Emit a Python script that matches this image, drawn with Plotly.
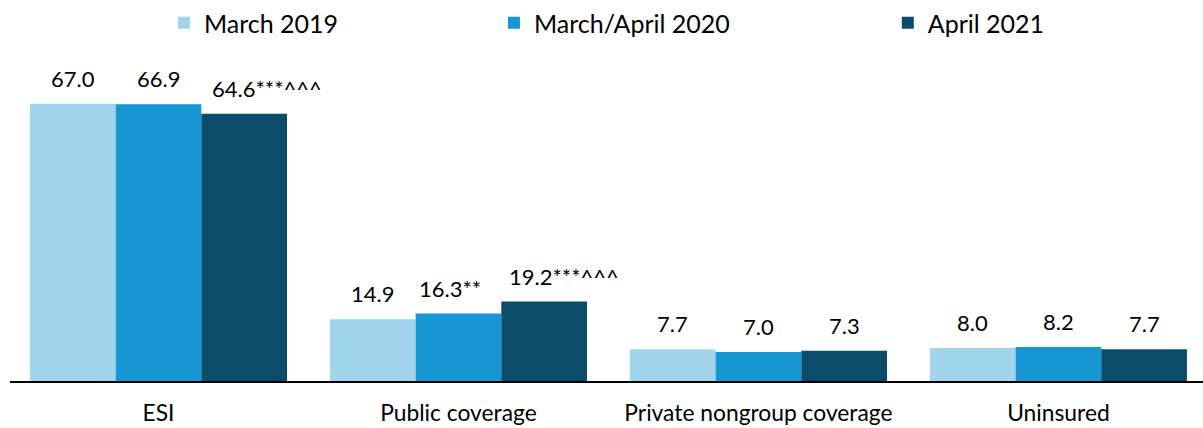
import plotly.graph_objects as go

categories = ["ESI", "Public coverage", "Private nongroup coverage", "Uninsured"]
series_names = ["March 2019", "March/April 2020", "April 2021"]
values_2019 = [67.0, 14.9, 7.7, 8.0]
values_2020 = [66.9, 16.3, 7.0, 8.2]
values_2021 = [64.6, 19.2, 7.3, 7.7]
labels_2019 = ["67.0", "14.9", "7.7", "8.0"]
labels_2020 = ["66.9", "16.3**", "7.0", "8.2"]
labels_2021 = ["64.6***^^^", "19.2***^^^", "7.3", "7.7"]
colors = ["#a2d4ec", "#1696d2", "#0a4c6a"]

all_values = [values_2019, values_2020, values_2021]
all_labels = [labels_2019, labels_2020, labels_2021]
legend_ids = ["legend", "legend2", "legend3"]
legend_x = [0.1363, 0.4106, 0.738]

FONT = "Lato, 'Open Sans', sans-serif"

fig = go.Figure()
for j in range(3):
    fig.add_trace(go.Bar(
        x=categories, y=all_values[j], name=series_names[j],
        marker=dict(color=colors[j], line=dict(width=0)),
        legend=legend_ids[j], hoverinfo="skip",
    ))

bar_px = 85.7
annotations = []
for j in range(3):
    for i, cat in enumerate(categories):
        lab = all_labels[j][i]
        extra = 0
        if lab.endswith("^^^"):
            extra = 23 if i == 0 else 20
        elif lab.endswith("**"):
            extra = -8
        annotations.append(dict(
            x=cat, y=all_values[j][i], xref="x", yref="y",
            text=lab, showarrow=False, yanchor="bottom", xanchor="center",
            xshift=(j - 1) * bar_px + extra, yshift=10,
            font=dict(family=FONT, size=22, color="#000000"),
        ))

layout_legends = {}
for j in range(3):
    layout_legends[legend_ids[j]] = dict(
        x=legend_x[j], y=1.0, xanchor="left", yanchor="top",
        xref="container", yref="container",
        orientation="h", bgcolor="rgba(0,0,0,0)",
        font=dict(family=FONT, size=25, color="#000000"),
        itemwidth=30,
    )

fig.update_layout(
    width=1203, height=428,
    margin=dict(l=10, r=0, t=50, b=47, autoexpand=False),
    paper_bgcolor="white", plot_bgcolor="white",
    barmode="group", bargap=0.143, bargroupgap=0,
    font=dict(family=FONT, size=22, color="#000000"),
    annotations=annotations,
    showlegend=True,
    **layout_legends,
)
fig.update_xaxes(
    range=[-0.495, 3.482], showline=True, linecolor="#000000", linewidth=2,
    ticks="", ticklabelstandoff=11, automargin=False,
    tickfont=dict(family=FONT, size=22.8, color="#000000"),
    showgrid=False, fixedrange=True,
)
fig.update_yaxes(
    range=[0, 80], visible=False, showgrid=False, zeroline=False, fixedrange=True,
    automargin=False,
)

fig.write_html(
    "out.html",
    config={"displayModeBar": False},
    post_script="document.body.style.margin='0';document.body.style.overflow='hidden';",
)
